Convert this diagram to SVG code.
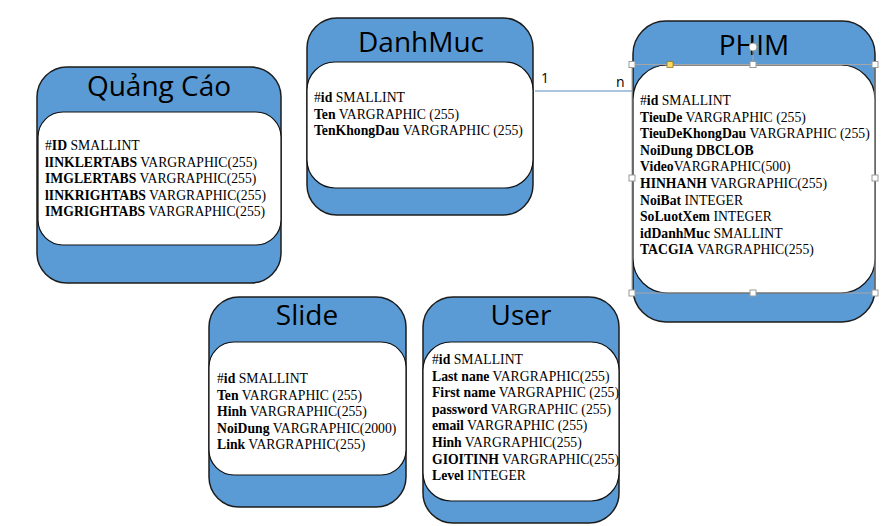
<svg xmlns="http://www.w3.org/2000/svg" width="893" height="526" viewBox="0 0 893 526">
<style>
.outer{fill:#5b9bd5;stroke:#1c1c1c;stroke-width:1.5}
.inner{fill:#ffffff;stroke:#111111;stroke-width:1.2}
.title{font-family:"Open Sans","Liberation Sans",sans-serif;font-size:28px;text-anchor:middle;fill:#000}
.attr{font-family:"Liberation Serif","Times New Roman",serif;font-size:13.7px;fill:#000}
.b{font-weight:bold}
.lbl{font-family:"Open Sans","Liberation Sans",sans-serif;font-size:14px;fill:#000}
.conn{stroke:#5a8bc0;stroke-width:1.2;fill:none}
.sel{stroke:#a6a6a6;stroke-width:1;fill:none}
.h{fill:#ffffff;stroke:#9a9a9a;stroke-width:1}
</style>
<rect width="893" height="526" fill="#ffffff"/>

<g id="connectors">
  <line class="conn" x1="535" y1="91" x2="632" y2="91"/>
  <text class="lbl" x="541" y="83">1</text>
  <text class="lbl" x="616" y="87">n</text>
</g>

<g id="quangcao">
  <rect class="outer" x="37" y="67" width="244" height="216" rx="30" ry="30"/>
  <rect class="inner" x="38" y="112" width="243" height="133" rx="25" ry="25"/>
  <text class="title" x="159" y="96">Quảng Cáo</text>
  <text class="attr" x="45" y="150">#<tspan class="b">ID</tspan> SMALLINT</text>
  <text class="attr" x="45" y="166.6"><tspan class="b">lINKLERTABS</tspan> VARGRAPHIC(255)</text>
  <text class="attr" x="45" y="183.2"><tspan class="b">IMGLERTABS</tspan> VARGRAPHIC(255)</text>
  <text class="attr" x="45" y="199.8"><tspan class="b">lINKRIGHTABS</tspan> VARGRAPHIC(255)</text>
  <text class="attr" x="45" y="216.4"><tspan class="b">IMGRIGHTABS</tspan> VARGRAPHIC(255)</text>
</g>

<g id="danhmuc">
  <rect class="outer" x="307" y="18" width="226" height="197" rx="30" ry="30"/>
  <rect class="inner" x="307" y="62" width="226" height="126" rx="28" ry="28"/>
  <text class="title" x="421" y="52">DanhMuc</text>
  <text class="attr" x="314" y="102">#<tspan class="b">id</tspan> SMALLINT</text>
  <text class="attr" x="314" y="118.6"><tspan class="b">Ten</tspan> VARGRAPHIC (255)</text>
  <text class="attr" x="314" y="135.2"><tspan class="b">TenKhongDau</tspan> VARGRAPHIC (255)</text>
</g>

<g id="phim">
  <rect class="outer" x="633" y="21" width="242" height="301" rx="33" ry="33"/>
  <rect class="inner" x="633" y="65" width="242" height="228" rx="34" ry="34"/>
  <text class="title" x="754" y="55">PHIM</text>
  <text class="attr" x="640" y="105">#<tspan class="b">id</tspan> SMALLINT</text>
  <text class="attr" x="640" y="121.6"><tspan class="b">TieuDe</tspan> VARGRAPHIC (255)</text>
  <text class="attr" x="640" y="138.2"><tspan class="b">TieuDeKhongDau</tspan> VARGRAPHIC (255)</text>
  <text class="attr b" x="640" y="154.8">NoiDung DBCLOB</text>
  <text class="attr" x="640" y="171.4"><tspan class="b">Video</tspan>VARGRAPHIC(500)</text>
  <text class="attr" x="640" y="188"><tspan class="b">HINHANH</tspan> VARGRAPHIC(255)</text>
  <text class="attr" x="640" y="204.6"><tspan class="b">NoiBat</tspan> INTEGER</text>
  <text class="attr" x="640" y="221.2"><tspan class="b">SoLuotXem</tspan> INTEGER</text>
  <text class="attr" x="640" y="237.8"><tspan class="b">idDanhMuc</tspan> SMALLINT</text>
  <text class="attr" x="640" y="254.4"><tspan class="b">TACGIA</tspan> VARGRAPHIC(255)</text>
</g>

<g id="slide">
  <rect class="outer" x="209" y="297" width="197" height="210" rx="30" ry="30"/>
  <rect class="inner" x="209" y="342" width="197" height="133" rx="25" ry="25"/>
  <text class="title" x="307" y="325">Slide</text>
  <text class="attr" x="217" y="383">#<tspan class="b">id</tspan> SMALLINT</text>
  <text class="attr" x="217" y="399.6"><tspan class="b">Ten</tspan> VARGRAPHIC (255)</text>
  <text class="attr" x="217" y="416.2"><tspan class="b">Hinh</tspan> VARGRAPHIC(255)</text>
  <text class="attr" x="217" y="432.8"><tspan class="b">NoiDung</tspan> VARGRAPHIC(2000)</text>
  <text class="attr" x="217" y="449.4"><tspan class="b">Link</tspan> VARGRAPHIC(255)</text>
</g>

<g id="user">
  <rect class="outer" x="423" y="297" width="196" height="226" rx="30" ry="30"/>
  <rect class="inner" x="423" y="342" width="196" height="159" rx="28" ry="28"/>
  <text class="title" x="521" y="325">User</text>
  <text class="attr" x="432" y="364">#<tspan class="b">id</tspan> SMALLINT</text>
  <text class="attr" x="432" y="380.6"><tspan class="b">Last nane</tspan> VARGRAPHIC(255)</text>
  <text class="attr" x="432" y="397.2"><tspan class="b">First name</tspan> VARGRAPHIC (255)</text>
  <text class="attr" x="432" y="413.8"><tspan class="b">password</tspan> VARGRAPHIC (255)</text>
  <text class="attr" x="432" y="430.4"><tspan class="b">email</tspan> VARGRAPHIC (255)</text>
  <text class="attr" x="432" y="447"><tspan class="b">Hinh</tspan> VARGRAPHIC(255)</text>
  <text class="attr" x="432" y="463.6"><tspan class="b">GIOITINH</tspan> VARGRAPHIC(255)</text>
  <text class="attr" x="432" y="480.2"><tspan class="b">Level</tspan> INTEGER</text>
</g>

<g id="selection">
  <rect class="sel" x="632" y="64.5" width="243" height="228.5"/>
  <line class="sel" x1="753" y1="51" x2="753" y2="64"/>
  <circle class="h" cx="753" cy="47" r="4"/>
  <rect class="h" x="629" y="61.5" width="6" height="6"/>
  <rect class="h" x="750" y="61.5" width="6" height="6"/>
  <rect class="h" x="872" y="61.5" width="6" height="6"/>
  <rect class="h" x="629" y="175" width="6" height="6"/>
  <rect class="h" x="872" y="175" width="6" height="6"/>
  <rect class="h" x="629" y="290" width="6" height="6"/>
  <rect class="h" x="750" y="290" width="6" height="6"/>
  <rect class="h" x="872" y="290" width="6" height="6"/>
  <rect x="667" y="61.5" width="6" height="6" fill="#ffd966" stroke="#8a7a2a" stroke-width="0.8"/>
</g>
</svg>
